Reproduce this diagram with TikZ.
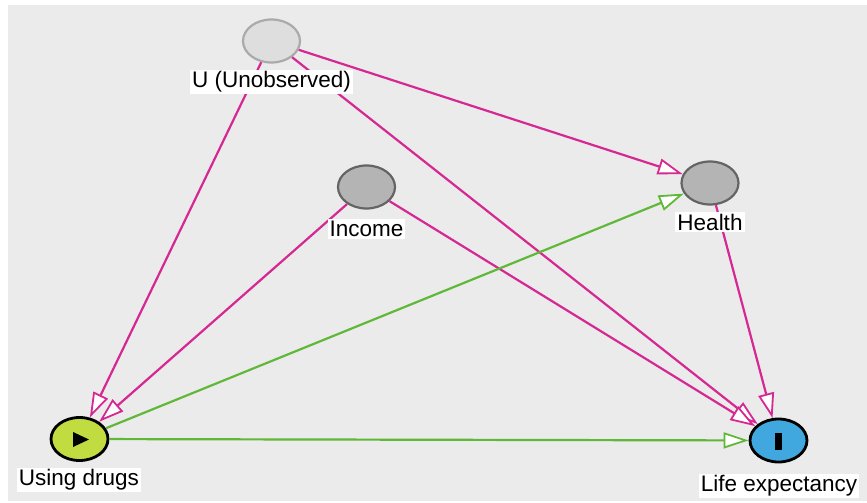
\documentclass[tikz,border=0pt]{standalone}
\usepackage{fontspec}
\setmainfont{Liberation Sans}
\usetikzlibrary{arrows.meta,shapes.geometric}
\definecolor{bg}{RGB}{235,235,235}
\definecolor{mag}{RGB}{214,40,146}
\definecolor{grn}{RGB}{96,184,56}
\definecolor{latent}{RGB}{222,222,222}
\definecolor{latentline}{RGB}{170,170,170}
\definecolor{adjf}{RGB}{180,180,180}
\definecolor{adjline}{RGB}{100,100,100}
\definecolor{expf}{RGB}{192,220,64}
\definecolor{outf}{RGB}{64,168,222}
\begin{document}
\begin{tikzpicture}[x=1pt,y=-1pt,
  var/.style={ellipse, minimum width=57pt, minimum height=43pt, inner sep=0pt, draw, line width=2.2pt},
  latentvar/.style={var, fill=latent, draw=latentline},
  adjvar/.style={var, fill=adjf, draw=adjline},
  expvar/.style={var, fill=expf, draw=black, line width=2.8pt},
  outvar/.style={var, fill=outf, draw=black, line width=2.8pt},
  lab/.style={fill=white, inner sep=2pt, font=\fontsize{22.5}{26}\selectfont},
  biasedge/.style={draw=mag, line width=2.2pt, -{Triangle[fill=white, length=25pt, width=16pt, line width=1.8pt]}},
  causaledge/.style={draw=grn, line width=2.2pt, -{Triangle[fill=white, length=25pt, width=16pt, line width=1.8pt]}}
]
\useasboundingbox (0,0) rectangle (867,503);
\fill[bg] (8,5) rectangle (867,501);

\node[latentvar] (U) at (271.5,41) {};
\node[adjvar] (I) at (366.5,187) {};
\node[adjvar] (H) at (710,183) {};
\node[expvar] (D) at (79.5,439) {};
\node[outvar] (L) at (778.5,440.5) {};

\draw[biasedge] (U) -- (D);
\draw[biasedge] (U) -- (L);
\draw[biasedge] (U) -- (H);
\draw[biasedge] (I) -- (D);
\draw[biasedge] (I) -- (L);
\draw[biasedge] (H) -- (L);
\draw[causaledge] (D) -- (H);
\draw[causaledge] (D) -- (L);

\fill[black] (73,432) -- (73,447) -- (89,439.5) -- cycle;
\fill[black] (775,433) rectangle (782,450);

\node[lab] (Ul) at (271.5,82) {U (Unobserved)};
\node[lab] (Il) at (366.5,229) {Income};
\node[lab] (Hl) at (710,222) {Health};
\node[lab] (Dl) at (79,480) {Using drugs};
\node[lab] (Ll) at (779,486) {Life expectancy};
\end{tikzpicture}
\end{document}
